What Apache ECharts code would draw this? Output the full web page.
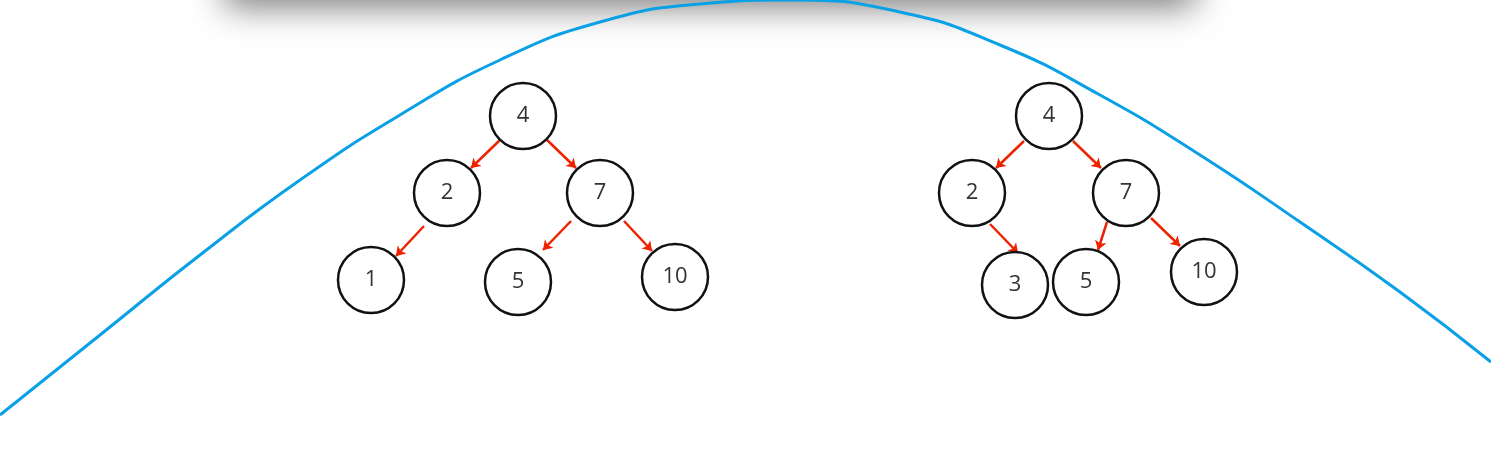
<!DOCTYPE html>
<html><head><meta charset="utf-8">
<script src="https://cdn.jsdelivr.net/npm/echarts@6/dist/echarts.min.js"></script>
<style>html,body{margin:0;padding:0;background:#fff}#c{width:1491px;height:452px}</style>
</head><body><div id="c"></div>
<script>
const nodeLabels = ['4','2','7','1','5','10','4','2','7','3','5','10'];
const nodeX = [523,447,600,371,518,675,1049,972,1126,1015,1086,1204];
const nodeY = [116,193,193,280,282,277,116,193,193,285,282,272];
const arrowStarts = [[500,140],[547,140],[424,226],[571,221],[624,221],[1024,141],[1073,141],[990,224],[1107,222],[1151,218]];
const arrowEnds = [[471,168],[576,168],[396,256],[543,250],[652,251],[996,168],[1101,168],[1018,253],[1098,250],[1180,246]];
const curveX = [0,100,200,300,400,500,600,700,790,900,1000,1100,1200,1300,1400,1491];
const curveY = [415,335,255,180,115,60,22,4,0,12,45,95,155,222,292,362];

const chart = echarts.init(document.getElementById('c'));
chart.setOption({
  animation:false,
  graphic:[{type:'rect',shape:{x:225,y:-40,width:970,height:40},style:{fill:'#fff',shadowBlur:35,shadowColor:'rgba(0,0,0,0.55)',shadowOffsetY:6},z:-1}],
  grid:{left:0,right:0,top:0,bottom:0},
  xAxis:{type:'value',min:0,max:1491,show:false},
  yAxis:{type:'value',min:0,max:452,inverse:true,show:false},
  series:[
    {type:'line',data:curveX.map((x,i)=>[x,curveY[i]]),smooth:true,symbol:'none',lineStyle:{color:'#0aa0e6',width:3},z:1},
    {type:'lines',coordinateSystem:'cartesian2d',symbol:['none','arrow'],symbolSize:9,
     lineStyle:{color:'#ee2200',width:2.5,opacity:1},
     data:arrowStarts.map((s,i)=>({coords:[s,arrowEnds[i]]})),z:3},
    {type:'scatter',symbolSize:66,
     itemStyle:{color:'#fff',borderColor:'#111',borderWidth:2.5,opacity:1},
     label:{show:true,position:'inside',formatter:p=>nodeLabels[p.dataIndex],fontSize:22,color:'#333',fontFamily:'Open Sans'},
     data:nodeX.map((x,i)=>[x,nodeY[i]]),z:4}
  ]
});
</script></body></html>
